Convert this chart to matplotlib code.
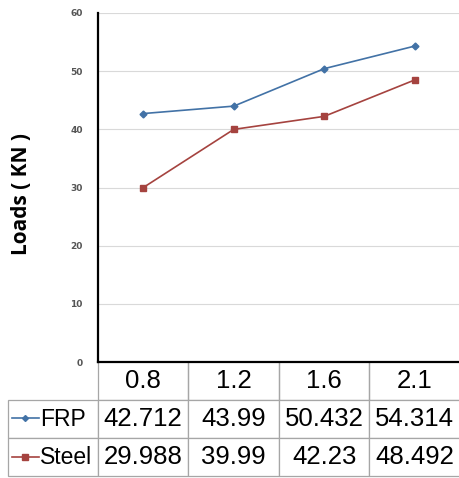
import matplotlib
matplotlib.use("Agg")
import matplotlib.pyplot as plt
from matplotlib.lines import Line2D

spans = ["0.8", "1.2", "1.6", "2.1"]
frp = [42.712, 43.99, 50.432, 54.314]
steel = [29.988, 39.99, 42.23, 48.492]
frp_txt = ["42.712", "43.99", "50.432", "54.314"]
steel_txt = ["29.988", "39.99", "42.23", "48.492"]
y_ticks = [0, 10, 20, 30, 40, 50, 60]

BLUE, RED = "#4272A6", "#A5433F"
W, H = 460, 478

fig = plt.figure(figsize=(W / 100, H / 100), dpi=100)
# plot area in pixels: left 98, right 460, top 13, bottom 362
ax = fig.add_axes([98 / W, (H - 362) / H, (W - 98) / W, (362 - 13) / H])

x = range(len(spans))
ax.plot(x, frp, color=BLUE, lw=1.2, marker="D", ms=3.5, mec=BLUE, mfc=BLUE)
ax.plot(x, steel, color=RED, lw=1.2, marker="s", ms=5, mec=RED, mfc=RED)

ax.set_xlim(-0.5, len(spans) - 0.5)
ax.set_ylim(0, 60)
ax.set_yticks(y_ticks)
ax.set_xticks([])
ax.tick_params(axis="y", length=0, pad=11, labelsize=6.5, labelcolor="#555555")
for t in ax.get_yticklabels():
    t.set_fontweight("bold")
ax.grid(axis="y", color="#d9d9d9", lw=0.8)
ax.set_axisbelow(True)
for s in ("top", "right"):
    ax.spines[s].set_visible(False)
for s in ("left", "bottom"):
    ax.spines[s].set_linewidth(1.6)
    ax.spines[s].set_color("black")
    ax.spines[s].set_zorder(5)

ax.set_ylabel("Loads ( KN )", fontsize=15, fontweight="bold", family="Open Sans")
ax.yaxis.set_label_coords(-0.182, 0.48)

# data table under the plot
aw = W - 98
ah = 362 - 13
cells = [[""] + spans,
         ["FRP"] + frp_txt,
         ["Steel"] + steel_txt]
tab = ax.table(cellText=cells, cellLoc="center",
               colWidths=[90 / aw] + [91 / aw] * 4,
               bbox=[(8 - 98) / aw, -(476 - 362) / ah, (W - 8) / aw, (476 - 362) / ah])
tab.auto_set_font_size(False)
tab.set_fontsize(18.5)
for (r, c), cell in tab.get_celld().items():
    cell.set_edgecolor("#a6a6a6")
    cell.set_linewidth(0.9)
    cell.get_text().set_family("Liberation Sans")
    if r == 0:
        cell.visible_edges = "" if c == 0 else "BRL"
    if c == 0 and r > 0:
        cell._loc = "left"
        cell.PAD = 0.36
        cell.get_text().set_ha("left")
        cell.get_text().set_fontsize(16.5)

# legend keys inside the row label cells
for yc, col, mk, ms in ((418, BLUE, "D", 3), (457, RED, "s", 4.5)):
    yf = (H - yc) / H
    fig.add_artist(Line2D([12 / W, 39 / W], [yf, yf], color=col, lw=1.2))
    fig.add_artist(Line2D([25.5 / W], [yf], color=col, marker=mk, ms=ms, mfc=col, mec=col))

fig.savefig("out.png", dpi=100)
